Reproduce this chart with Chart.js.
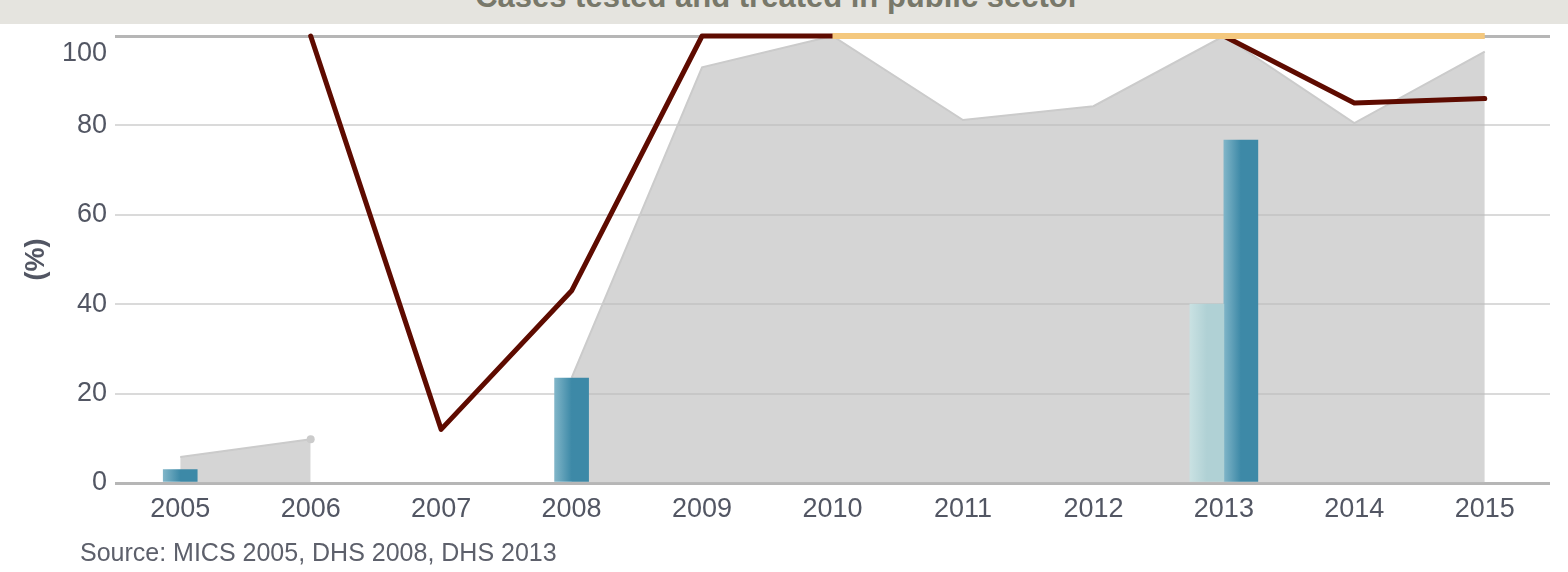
<!DOCTYPE html>
<html>
<head>
<meta charset="utf-8">
<title>Cases tested and treated in public sector</title>
<script src="https://cdn.jsdelivr.net/npm/chart.js@4.4.1/dist/chart.umd.min.js"></script>
<style>
  html, body { margin: 0; padding: 0; background: #fff; }
  #wrap { position: relative; width: 1568px; height: 572px; overflow: hidden; }
  #chart { position: absolute; left: 0; top: 0; }
  .hdr { position: absolute; left: 0; top: 0; width: 1568px; height: 24px; background: #e5e4df; overflow: hidden; z-index: 2; }
  .hdr span { position: absolute; left: 0; width: 1555px; top: -19px; text-align: center; white-space: nowrap;
              font: bold 31px/31px "Liberation Sans", Arial, sans-serif; color: #78786a; }
  .src { position: absolute; left: 80px; top: 539px; font: 25px/26px "Liberation Sans", Arial, sans-serif; color: #5d606b; }
</style>
</head>
<body>
<div id="wrap">
  <canvas id="chart" width="1568" height="572"></canvas>
  <div class="hdr"><span>Cases tested and treated in public sector</span></div>
  <div class="src">Source: MICS 2005, DHS 2008, DHS 2013</div>
</div>

<script>
/* ── Data ──────────────────────────────────── */
const years      = ['2005','2006','2007','2008','2009','2010','2011','2012','2013','2014','2015'];
const areaVals   = [5.8, 9.8, null, 23.5, 93, 100, 81.2, 84.3, 100, 80.5, 96.5];
const redVals    = [null, 100, 12, 43, 100, 100, 100, 100, 100, 85, 86];
const yellowVals = [null, null, null, null, null, 100, 100, 100, 100, 100, 100];
const barLight   = [null, null, null, null, null, null, null, null, 40, null, null];
const barDark    = [3, null, null, 23.5, null, null, null, null, 76.7, null, null];
const yTicks     = [0, 20, 40, 60, 80, 100];

/* ── Style ─────────────────────────────────── */
const FONT  = '"Liberation Sans", Arial, sans-serif';
const TXT   = '#525663';
const BAR_W = 34;

// horizontal gradient per bar, light edge on the left
function barGrad(ctx, from, to) {
  const chart = ctx.chart;
  const xs = chart.scales.x;
  if (!chart.chartArea || !xs || ctx.dataIndex == null) return to;
  const cx = xs.getPixelForValue(ctx.dataIndex);
  const both = barLight[ctx.dataIndex] != null && barDark[ctx.dataIndex] != null;
  let left = cx - BAR_W / 2;
  if (both) left = (from === '#c9e1e2') ? cx - BAR_W : cx;
  const g = chart.ctx.createLinearGradient(left, 0, left + BAR_W, 0);
  g.addColorStop(0, from);
  g.addColorStop(0.5, to);
  g.addColorStop(1, to);
  return g;
}

const edge = c => c.tick && (c.tick.value === 0 || c.tick.value === 100);

new Chart(document.getElementById('chart'), {
  type: 'bar',
  data: {
    labels: years,
    datasets: [
      { type: 'line', data: yellowVals, borderColor: '#f4c87e', borderWidth: 6, pointRadius: 0,
        fill: false, order: 0, clip: false },
      { type: 'line', data: redVals, borderColor: '#5e0b00', borderWidth: 5, pointRadius: 0,
        fill: false, order: 1, clip: false, borderJoinStyle: 'round', borderCapStyle: 'round' },
      { data: barLight, backgroundColor: c => barGrad(c, '#c9e1e2', '#b0d1d5'), barThickness: BAR_W,
        skipNull: true, borderWidth: 0, order: 2 },
      { data: barDark, backgroundColor: c => barGrad(c, '#80b5c8', '#3d89a7'), barThickness: BAR_W,
        skipNull: true, borderWidth: 0, order: 2 },
      { type: 'line', data: areaVals, fill: 'origin', backgroundColor: 'rgba(188,188,188,0.62)',
        borderColor: '#cbcbcb', borderWidth: 2, tension: 0, spanGaps: false, order: 3,
        pointRadius: c => c.dataIndex === 1 ? 4 : 0, pointBackgroundColor: '#cbcbcb', pointBorderWidth: 0 },
    ]
  },
  options: {
    responsive: false,
    animation: false,
    devicePixelRatio: 1,
    layout: { padding: { top: 36, right: 18, left: 0, bottom: 0 } },
    plugins: { legend: { display: false }, tooltip: { enabled: false } },
    scales: {
      x: {
        offset: true,
        grid: { display: false },
        border: { display: false },
        ticks: { color: TXT, padding: 2, maxRotation: 0, autoSkip: false,
                 font: { family: FONT, size: 27, lineHeight: 1.2 } },
        afterFit: s => { s.height = 89; }
      },
      y: {
        min: 0, max: 100,
        border: { display: false },
        afterBuildTicks: s => { s.ticks = yTicks.map(v => ({ value: v })); },
        ticks: { color: TXT, padding: 8, font: { family: FONT, size: 27, lineHeight: 1.333 },
                 callback: v => v === 100 ? ['', '100'] : String(v) },
        grid: { drawTicks: false, color: c => edge(c) ? '#b6b6b6' : '#dadada', lineWidth: c => edge(c) ? 3 : 2 },
        title: { display: true, text: '(%)', color: TXT, padding: { top: 20, bottom: 0 },
                 font: { family: FONT, size: 27, weight: 'bold', lineHeight: 1.2 } },
        afterFit: s => { s.width = 115; s.paddingTop = 0; s.paddingBottom = 0; }
      }
    }
  }
});
</script>
</body>
</html>
